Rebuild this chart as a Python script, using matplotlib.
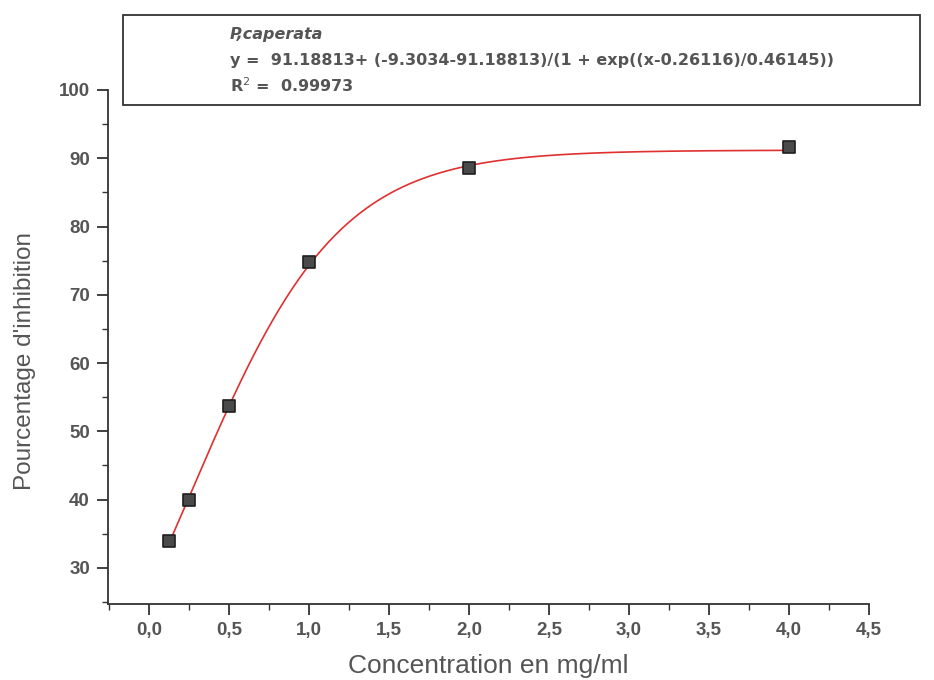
import numpy as np
import matplotlib.pyplot as plt
from matplotlib.ticker import MultipleLocator, FuncFormatter
from matplotlib.patches import Rectangle

plt.rcParams['font.family'] = ['Liberation Sans', 'DejaVu Sans']

# measured points
conc = [0.125, 0.25, 0.5, 1.0, 2.0, 4.0]
inhib = [34.0, 40.0, 53.7, 74.8, 88.5, 91.6]

# Boltzmann fit parameters shown in the box
A2 = 91.18813
A1 = -9.3034
x0 = 0.26116
dx = 0.46145
r2 = 0.99973
species = "P,caperata"

txt_col = '#555555'

fig = plt.figure(figsize=(9.34, 6.8), dpi=100)
ax = fig.add_axes([108 / 934, 76 / 680, 761 / 934, 514 / 680])

xs = np.linspace(conc[0], conc[-1], 400)
fit = A2 + (A1 - A2) / (1 + np.exp((xs - x0) / dx))
ax.plot(xs, fit, color='#e03030', lw=1.2, zorder=2)
ax.scatter(conc, inhib, marker='s', s=72, color='#4a4a4a', edgecolors='#1e1e1e', linewidths=1.2, zorder=3)

ax.set_xlim(-0.256, 4.5)
ax.set_ylim(24.7, 100)
ax.xaxis.set_major_locator(MultipleLocator(0.5))
ax.xaxis.set_minor_locator(MultipleLocator(0.25))
ax.yaxis.set_minor_locator(MultipleLocator(5))
ax.set_yticks([30, 40, 50, 60, 70, 80, 90, 100])
ax.xaxis.set_major_formatter(FuncFormatter(lambda v, p: f"{v:.1f}".replace('.', ',')))

for s in ['top', 'right']:
    ax.spines[s].set_visible(False)
for s in ['left', 'bottom']:
    ax.spines[s].set_color('#333333')
    ax.spines[s].set_linewidth(1.3)

ax.tick_params(which='major', direction='out', length=8, width=1.3, color='#333333',
               labelsize=13.5, labelcolor=txt_col, pad=5)
ax.tick_params(which='minor', direction='out', length=4, width=1, color='#333333')
for lab in ax.get_xticklabels() + ax.get_yticklabels():
    lab.set_fontweight('bold')

ax.set_xlabel("Concentration en mg/ml", fontsize=19, color=txt_col)
ax.set_ylabel("Pourcentage d'inhibition", fontsize=17.5, color=txt_col)
ax.xaxis.label.set_va('center')
ax.yaxis.label.set_va('center')
ax.xaxis.set_label_coords(0.50, -(666 - 604) / 514)
ax.yaxis.set_label_coords(-(108 - 25) / 761, (604 - 361) / 514)

# equation box in figure coords
fig.patches.append(Rectangle((123 / 934, 1 - 105 / 680), (920 - 123) / 934, 90 / 680,
                             transform=fig.transFigure, fill=False, edgecolor='#333333', lw=1.3))
box_font = dict(family=['DejaVu Sans'], fontsize=11.5, fontweight='bold', color=txt_col, va='center')
fig.text(230 / 934, 1 - 35 / 680, species, style='italic', **box_font)
fig.text(230 / 934, 1 - 60 / 680,
         f"y =  {A2}+ ({A1}-{A2})/(1 + exp((x-{x0})/{dx}))", **box_font)
fig.text(230 / 934, 1 - 86 / 680, f"R$^2$ =  {r2}", **box_font)

plt.savefig("out.png", dpi=100)
